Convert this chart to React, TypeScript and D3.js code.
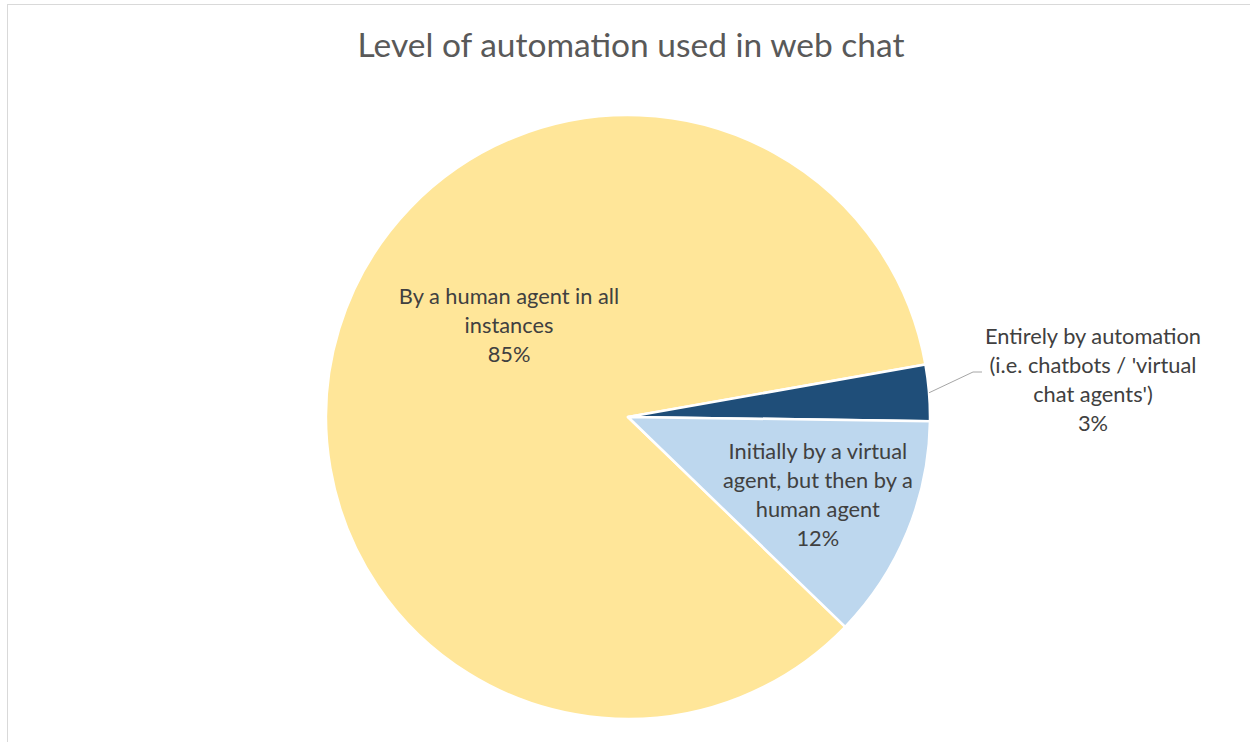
import React from "react";
import * as d3 from "d3";

// slice data, clockwise after rotation
const categories = [
  "By a human agent in all instances",
  "Entirely by automation (i.e. chatbots / 'virtual chat agents')",
  "Initially by a virtual agent, but then by a human agent",
];
const values = [85, 3, 12];
const labelLines = [
  ["By a human agent in all", "instances"],
  ["Entirely by automation", "(i.e. chatbots / 'virtual", "chat agents')"],
  ["Initially by a virtual", "agent, but then by a", "human agent"],
];
const colors = ["#FFE699", "#1F4E79", "#BDD7EE"];
const title = "Level of automation used in web chat";

const W = 1250;
const H = 742;
const cx = 628;
const cy = 417;
const R = 302;
const FONT = "Lato, 'Open Sans', sans-serif";

export default function App() {
  const rot = (134 * Math.PI) / 180;
  const pie = d3
    .pie<number>()
    .sort(null)
    .startAngle(rot)
    .endAngle(rot + 2 * Math.PI);
  const arcs = pie(values);
  const arc = d3.arc<d3.PieArcDatum<number>>().innerRadius(0).outerRadius(R);
  const inner = d3.arc<d3.PieArcDatum<number>>().innerRadius(0).outerRadius(R * 1.36);

  // where each label block is centred (relative to pie centre)
  const labelPos = arcs.map((a, i) => {
    if (i === 0) return [-119, -91]; // best-fit inside
    if (i === 1) return [465, -37]; // outside, with leader
    return inner.centroid(a);
  });

  const lh = 29;

  // leader line for the small slice
  const a1 = arcs[1];
  const mid = (a1.startAngle + a1.endAngle) / 2;
  const p0 = [Math.sin(mid) * R, -Math.cos(mid) * R];
  const p1 = [345, -45];
  const p2 = [354, -45];

  return (
    <svg width={W} height={H} style={{ position: "absolute", left: 0, top: 0 }}>
      <rect x={7.5} y={4.5} width={W} height={H} fill="#fff" stroke="#d9d9d9" />
      <text
        x={631}
        y={57}
        textAnchor="middle"
        fontFamily={FONT}
        fontSize={33.5}
        fill="#595959"
      >
        {title}
      </text>
      <g transform={`translate(${cx},${cy})`}>
        {arcs.map((a, i) => (
          <path key={categories[i]} d={arc(a) ?? ""} fill={colors[i]} stroke="#fff" strokeWidth={2.5} strokeLinejoin="round" />
        ))}
        <polyline
          points={[p0, p1, p2].map((p) => p.join(",")).join(" ")}
          fill="none"
          stroke="#a6a6a6"
          strokeWidth={1}
        />
        {arcs.map((a, i) => {
          const lines = [...labelLines[i], `${Math.round(values[i])}%`];
          const [lx, ly] = labelPos[i];
          const top = ly - ((lines.length - 1) * lh) / 2;
          return (
            <text
              key={"l" + i}
              textAnchor="middle"
              fontFamily={FONT}
              fontSize={21.8}
              fill="#404040"
            >
              {lines.map((t, j) => (
                <tspan key={j} x={lx} y={top + j * lh + 7}>
                  {t}
                </tspan>
              ))}
            </text>
          );
        })}
      </g>
    </svg>
  );
}
